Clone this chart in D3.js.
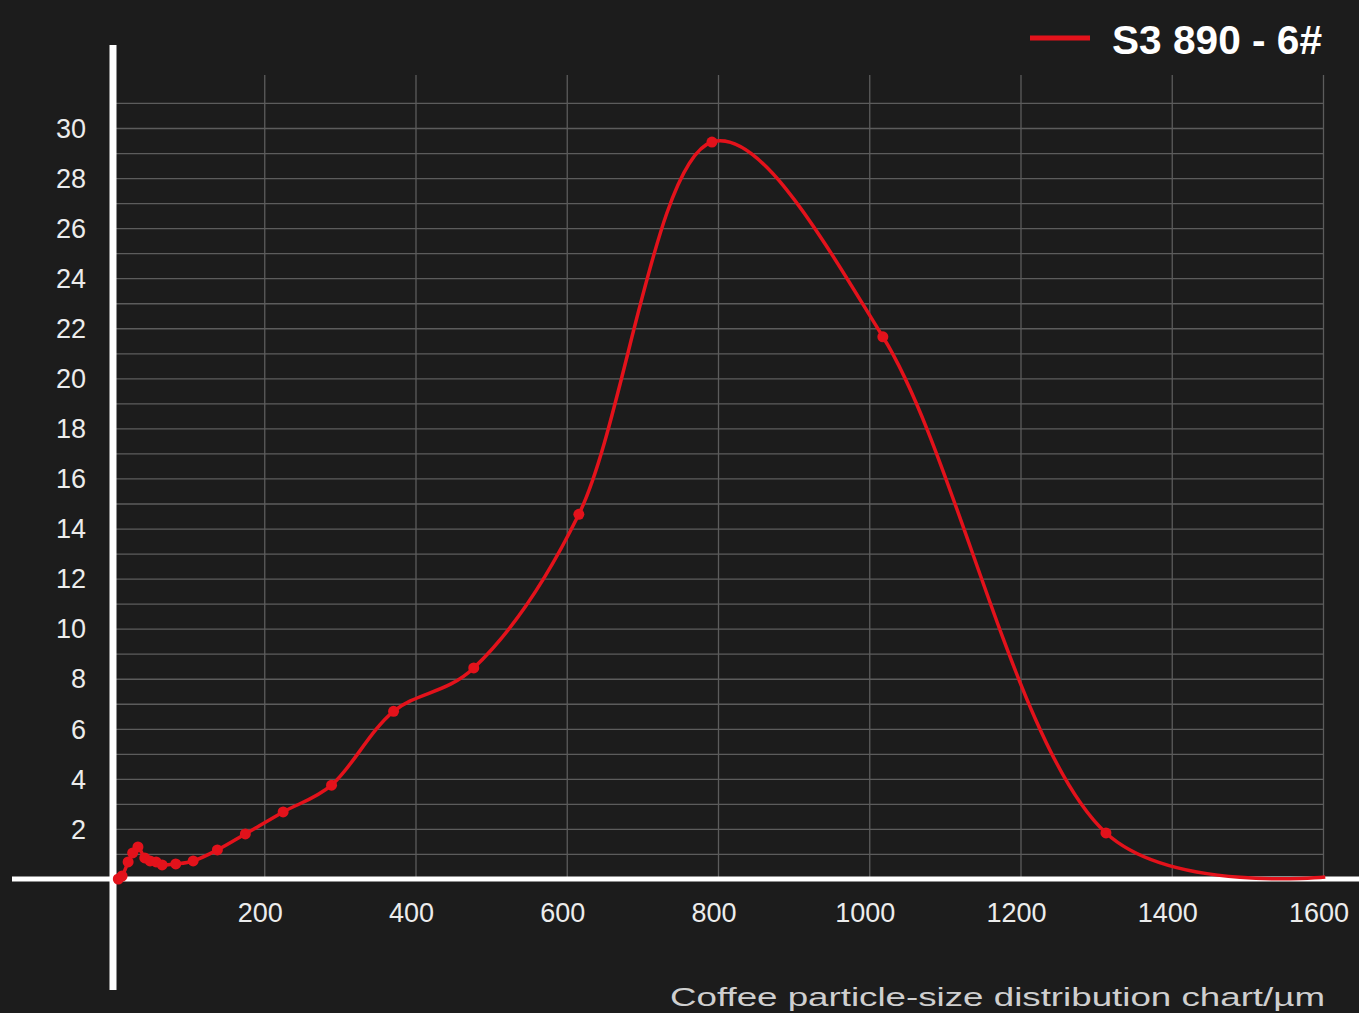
<!DOCTYPE html>
<html>
<head>
<meta charset="utf-8">
<script src="https://cdn.jsdelivr.net/npm/d3@7"></script>
<style>
  html, body { margin: 0; padding: 0; background: #1c1c1c; }
  svg { display: block; }
</style>
</head>
<body>
<svg id="chart" width="1359" height="1013"></svg>
<script>
// particle size (µm) and share (%)
var sizes = [7, 12, 20, 26, 33, 42, 49, 57, 65, 83, 106, 138, 175, 225, 289, 371, 477, 616, 792, 1018, 1313, 1603];
var shares = [0, 0.12, 0.68, 1.04, 1.28, 0.84, 0.72, 0.68, 0.56, 0.6, 0.72, 1.16, 1.8, 2.68, 3.75, 6.7, 8.43, 14.57, 29.44, 21.66, 1.84, 0.08];
var xTicks = [200, 400, 600, 800, 1000, 1200, 1400, 1600];
var yTicks = [2, 4, 6, 8, 10, 12, 14, 16, 18, 20, 22, 24, 26, 28, 30];
var yGrid = d3.range(1, 32);
var seriesName = "S3 890 - 6#";
var xTitle = "Coffee particle-size distribution chart/µm";

var red = "#e3121b";
var svg = d3.select("#chart");
var x = d3.scaleLinear().domain([0, 1600]).range([113, 1323]);
var y = d3.scaleLinear().domain([0, 30]).range([879, 128]);

var data = sizes.map(function (s, i) { return { x: s, y: shares[i] }; });

// grid
svg.append("g").selectAll("line").data(yGrid).enter().append("line")
    .attr("x1", 116).attr("x2", x(1600))
    .attr("y1", function (d) { return y(d) + 0.5; })
    .attr("y2", function (d) { return y(d) + 0.5; })
    .attr("stroke", "#5c5c5c").attr("stroke-width", 1.3);

svg.append("g").selectAll("line").data(xTicks).enter().append("line")
    .attr("x1", function (d) { return x(d) + 0.5; })
    .attr("x2", function (d) { return x(d) + 0.5; })
    .attr("y1", 75).attr("y2", 879)
    .attr("stroke", "#5c5c5c").attr("stroke-width", 1.3);

// axes lines
svg.append("line").attr("x1", 12).attr("x2", 1359).attr("y1", y(0)).attr("y2", y(0))
    .attr("stroke", "#ffffff").attr("stroke-width", 5);
svg.append("line").attr("x1", 113).attr("x2", 113).attr("y1", 45).attr("y2", 990)
    .attr("stroke", "#ffffff").attr("stroke-width", 7);

// tick labels
var font = "'Liberation Sans', Arial, sans-serif";
svg.append("g").selectAll("text").data(yTicks).enter().append("text")
    .attr("x", 86).attr("y", function (d) { return y(d); })
    .attr("dy", "0.36em")
    .attr("text-anchor", "end")
    .attr("fill", "#ececec")
    .style("font-family", font).style("font-size", "27px")
    .text(function (d) { return d; });

svg.append("g").selectAll("text").data(xTicks).enter().append("text")
    .attr("x", function (d) { return x(d) - 4; }).attr("y", 922)
    .attr("text-anchor", "middle")
    .attr("fill", "#ececec")
    .style("font-family", font).style("font-size", "27px")
    .text(function (d) { return d; });

// series
var line = d3.line()
    .x(function (d) { return x(d.x); })
    .y(function (d) { return y(d.y); })
    .curve(d3.curveCatmullRom.alpha(0.35));

svg.append("path").datum(data)
    .attr("d", line)
    .attr("fill", "none")
    .attr("stroke", red)
    .attr("stroke-width", 3.5);

svg.append("g").selectAll("circle").data(data.slice(0, -1)).enter().append("circle")
    .attr("cx", function (d) { return x(d.x); })
    .attr("cy", function (d) { return y(d.y); })
    .attr("r", 5.5)
    .attr("fill", red);

// legend
svg.append("line").attr("x1", 1030).attr("x2", 1090).attr("y1", 38).attr("y2", 38)
    .attr("stroke", red).attr("stroke-width", 5);
svg.append("text").attr("x", 1112).attr("y", 54)
    .attr("fill", "#ffffff")
    .style("font-family", font).style("font-size", "41px").style("font-weight", "bold")
    .attr("textLength", 210).attr("lengthAdjust", "spacingAndGlyphs")
    .text(seriesName);

// axis title
svg.append("text").attr("x", 670).attr("y", 1006)
    .attr("fill", "#cfcfcf")
    .style("font-family", font).style("font-size", "25px")
    .attr("textLength", 655).attr("lengthAdjust", "spacingAndGlyphs")
    .text(xTitle);
</script>
</body>
</html>
